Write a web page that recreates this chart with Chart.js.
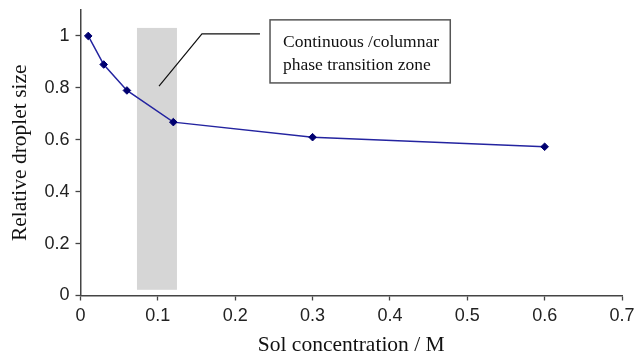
<!DOCTYPE html>
<html>
<head>
<meta charset="utf-8">
<script src="https://cdn.jsdelivr.net/npm/chart.js@4/dist/chart.umd.min.js"></script>
<style>
  html, body { margin: 0; padding: 0; background: #fff; }
  #wrap { width: 637px; height: 354px; }
</style>
</head>
<body>
<div id="wrap"><canvas id="c" width="637" height="354"></canvas></div>
<script>
// ---- data ----
const solConcentration = [0.01, 0.03, 0.06, 0.12, 0.30, 0.60];
const relativeDropletSize = [1.0, 0.89, 0.79, 0.668, 0.61, 0.573];
const xTickValues = [0, 0.1, 0.2, 0.3, 0.4, 0.5, 0.6, 0.7];
const xTickLabels = ["0", "0.1", "0.2", "0.3", "0.4", "0.5", "0.6", "0.7"];
const yTickValues = [0, 0.2, 0.4, 0.6, 0.8, 1.0];
const yTickLabels = ["0", "0.2", "0.4", "0.6", "0.8", "1"];
const transitionZone = [0.073, 0.1247];      // x range of the shaded band
const transitionZoneY = [0.022, 1.031];      // y range of the shaded band
const annotationLines = ["Continuous /columnar", "phase transition zone"];
const annotationBox = { x0: 0.245, x1: 0.478, y0: 1.062, y1: 0.819 };
const leaderPath = [[0.232, 1.008], [0.157, 1.008], [0.1015, 0.807]];

const points = solConcentration.map((x, i) => ({ x: x, y: relativeDropletSize[i] }));

const bandPlugin = {
  id: 'band',
  beforeDatasetsDraw(chart) {
    const { ctx, scales: { x, y } } = chart;
    const l = x.getPixelForValue(transitionZone[0]);
    const r = x.getPixelForValue(transitionZone[1]);
    const t = y.getPixelForValue(transitionZoneY[1]);
    const b = y.getPixelForValue(transitionZoneY[0]);
    ctx.save();
    ctx.fillStyle = '#d6d6d6';
    ctx.fillRect(l, t, r - l, b - t);
    ctx.restore();
  },
  afterDatasetsDraw(chart) {
    const { ctx, scales: { x, y } } = chart;
    ctx.save();
    // leader line
    ctx.strokeStyle = '#111';
    ctx.lineWidth = 1.2;
    ctx.beginPath();
    leaderPath.forEach((p, i) => {
      const px = x.getPixelForValue(p[0]);
      const py = y.getPixelForValue(p[1]);
      if (i === 0) ctx.moveTo(px, py); else ctx.lineTo(px, py);
    });
    ctx.stroke();
    // box
    const bl = x.getPixelForValue(annotationBox.x0);
    const br = x.getPixelForValue(annotationBox.x1);
    const bt = y.getPixelForValue(annotationBox.y0);
    const bb = y.getPixelForValue(annotationBox.y1);
    ctx.fillStyle = '#fff';
    ctx.fillRect(bl, bt, br - bl, bb - bt);
    ctx.strokeStyle = '#555';
    ctx.lineWidth = 1.5;
    ctx.strokeRect(bl, bt, br - bl, bb - bt);
    ctx.fillStyle = '#111';
    ctx.font = '17.5px "Liberation Serif", "Times New Roman", serif';
    ctx.textAlign = 'left';
    ctx.textBaseline = 'alphabetic';
    annotationLines.forEach((line, i) => {
      ctx.fillText(line, bl + 13, bt + 27 + i * 23);
    });
    ctx.restore();
  }
};

const tickFont = { family: '"Liberation Sans", Arial, sans-serif', size: 18 };
const titleFont = { family: '"Liberation Serif", "Times New Roman", serif', size: 21.5 };

new Chart(document.getElementById('c'), {
  type: 'scatter',
  data: {
    datasets: [{
      data: points,
      showLine: true,
      borderColor: '#2424a0',
      borderWidth: 1.5,
      backgroundColor: '#000070',
      pointBackgroundColor: '#000070',
      pointBorderColor: '#000070',
      pointStyle: 'rectRot',
      pointRadius: 3.8,
      pointBorderWidth: 1,
      tension: 0
    }]
  },
  options: {
    responsive: false,
    animation: false,
    devicePixelRatio: 1,
    layout: { padding: { left: 0, right: 15, top: 10, bottom: 0 } },
    plugins: { legend: { display: false }, tooltip: { enabled: false } },
    scales: {
      x: {
        type: 'linear',
        min: 0,
        max: 0.7,
        afterBuildTicks: s => { s.ticks = xTickValues.map(v => ({ value: v })); },
        afterFit: s => { s.height = 58.5; s.paddingLeft = 0; s.paddingRight = 0; },
        grid: { drawOnChartArea: false, tickLength: 5, tickColor: '#444', tickWidth: 1.3 },
        border: { color: '#444', width: 1.5 },
        ticks: {
          font: tickFont, color: '#222', padding: 5, maxRotation: 0,
          callback: v => { const i = xTickValues.findIndex(t => Math.abs(t - v) < 1e-9); return i >= 0 ? xTickLabels[i] : ''; }
        },
        title: {
          display: true, text: 'Sol concentration / M', color: '#111',
          font: Object.assign({ lineHeight: 0.6 }, titleFont),
          padding: { top: 0, bottom: 2 }
        }
      },
      y: {
        type: 'linear',
        min: 0,
        max: 1.1,
        afterBuildTicks: s => { s.ticks = yTickValues.map(v => ({ value: v })); },
        afterFit: s => { s.width = 80.5; s.paddingTop = 0; s.paddingBottom = 0; },
        grid: { drawOnChartArea: false, tickLength: 5, tickColor: '#444', tickWidth: 1.3 },
        border: { color: '#444', width: 1.5 },
        ticks: {
          font: tickFont, color: '#222', padding: 6,
          callback: v => { const i = yTickValues.findIndex(t => Math.abs(t - v) < 1e-9); return i >= 0 ? yTickLabels[i] : ''; }
        },
        title: {
          display: true, text: 'Relative droplet size', color: '#111',
          font: Object.assign({ lineHeight: 1.2 }, titleFont),
          padding: { top: 7.5, bottom: 0 }
        }
      }
    }
  },
  plugins: [bandPlugin]
});
</script>
</body>
</html>
